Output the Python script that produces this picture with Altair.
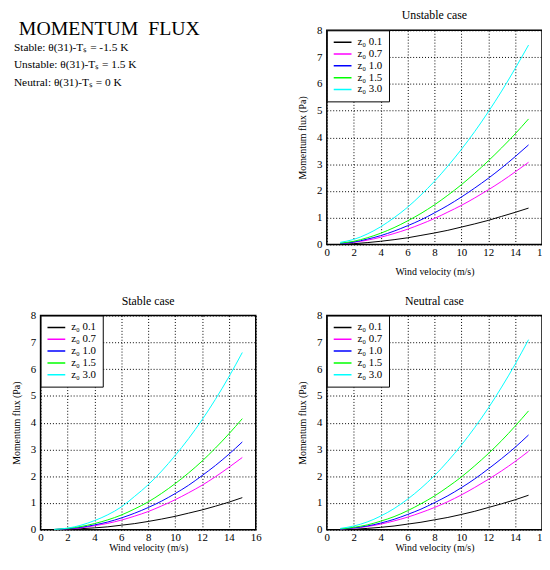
import altair as alt
import pandas as pd

SERIF = "Liberation Serif"

wind = [1, 2, 3, 4, 5, 6, 7, 8, 9, 10, 11, 12, 13, 14, 15]
z0_labels = ["z\u2080 0.1", "z\u2080 0.7", "z\u2080 1.0", "z\u2080 1.5", "z\u2080 3.0"]
z0_colors = ["#000000", "#ff00ff", "#0000ff", "#00ff00", "#00ffff"]

main_title = "MOMENTUM\u00a0 FLUX"
subtitle_lines = [
    "Stable: \u03b8(31)-T\u209b = -1.5 K",
    "Unstable: \u03b8(31)-T\u209b = 1.5 K",
    "Neutral: \u03b8(31)-T\u209b = 0 K",
]

panel_titles = ["Unstable case", "Stable case", "Neutral case"]
x_title = "Wind velocity (m/s)"
y_title = "Momentum flux (Pa)"
x_ticks = [0, 2, 4, 6, 8, 10, 12, 14, 16]
y_ticks = [0, 1, 2, 3, 4, 5, 6, 7, 8]

unstable_01 = [0.01, 0.03, 0.07, 0.12, 0.18, 0.25, 0.34, 0.43, 0.53, 0.65, 0.77, 0.90, 1.05, 1.20, 1.36]
unstable_07 = [0.03, 0.08, 0.16, 0.27, 0.41, 0.57, 0.76, 0.97, 1.21, 1.46, 1.74, 2.04, 2.36, 2.71, 3.07]
unstable_10 = [0.04, 0.09, 0.20, 0.33, 0.50, 0.70, 0.92, 1.18, 1.46, 1.77, 2.11, 2.47, 2.86, 3.28, 3.72]
unstable_15 = [0.05, 0.12, 0.25, 0.42, 0.63, 0.88, 1.16, 1.48, 1.84, 2.23, 2.66, 3.12, 3.61, 4.13, 4.69]
unstable_30 = [0.08, 0.19, 0.39, 0.66, 1.00, 1.39, 1.85, 2.36, 2.93, 3.55, 4.22, 4.95, 5.73, 6.57, 7.45]

stable_01 = [0.00, 0.02, 0.04, 0.07, 0.11, 0.17, 0.23, 0.31, 0.40, 0.50, 0.62, 0.74, 0.88, 1.03, 1.20]
stable_07 = [0.01, 0.03, 0.07, 0.15, 0.24, 0.36, 0.51, 0.68, 0.89, 1.12, 1.38, 1.66, 1.98, 2.33, 2.70]
stable_10 = [0.01, 0.04, 0.09, 0.18, 0.29, 0.44, 0.62, 0.83, 1.07, 1.35, 1.66, 2.02, 2.40, 2.82, 3.28]
stable_15 = [0.01, 0.05, 0.12, 0.23, 0.37, 0.55, 0.78, 1.04, 1.36, 1.72, 2.12, 2.56, 3.05, 3.58, 4.15]
stable_30 = [0.01, 0.06, 0.17, 0.34, 0.56, 0.85, 1.25, 1.68, 2.19, 2.77, 3.40, 4.10, 4.87, 5.71, 6.62]

neutral_01 = [0.01, 0.02, 0.05, 0.09, 0.14, 0.21, 0.28, 0.37, 0.46, 0.57, 0.69, 0.83, 0.97, 1.12, 1.29]
neutral_07 = [0.02, 0.06, 0.12, 0.21, 0.33, 0.47, 0.64, 0.83, 1.05, 1.30, 1.58, 1.88, 2.20, 2.55, 2.93]
neutral_10 = [0.02, 0.07, 0.14, 0.25, 0.39, 0.57, 0.77, 1.01, 1.27, 1.57, 1.90, 2.27, 2.66, 3.08, 3.54]
neutral_15 = [0.03, 0.09, 0.18, 0.32, 0.49, 0.71, 0.97, 1.26, 1.60, 1.97, 2.39, 2.84, 3.33, 3.87, 4.44]
neutral_30 = [0.05, 0.14, 0.29, 0.51, 0.79, 1.14, 1.55, 2.02, 2.56, 3.16, 3.82, 4.54, 5.33, 6.18, 7.10]


def to_frame(series_list):
    rows = []
    for label, values in zip(z0_labels, series_list):
        for u, v in zip(wind, values):
            rows.append({"wind": u, "flux": v, "z0": label})
    return pd.DataFrame(rows)


def axis(title, values, label_pad, title_pad):
    return alt.Axis(
        title=title, values=values, grid=True, gridColor="black", gridDash=[1, 2],
        gridOpacity=1, gridWidth=1, ticks=False, domain=False,
        labelFont=SERIF, labelFontSize=11, labelColor="black", labelFlush=False,
        labelPadding=label_pad, titleFont=SERIF, titleFontSize=10, titleFontWeight="normal",
        titleColor="black", titlePadding=title_pad,
    )


def panel(series_list, title, x_title_pad):
    df = to_frame(series_list)
    return alt.Chart(
        df,
        title=alt.TitleParams(title, font=SERIF, fontSize=12, fontWeight="normal",
                              color="black", frame="group", offset=2),
    ).mark_line(strokeWidth=1, interpolate="monotone", clip=True).encode(
        x=alt.X("wind:Q", scale=alt.Scale(domain=[0, 16], nice=False),
                axis=axis(x_title, x_ticks, 2, x_title_pad)),
        y=alt.Y("flux:Q", scale=alt.Scale(domain=[0, 8], nice=False),
                axis=axis(y_title, y_ticks, 5, 9)),
        color=alt.Color(
            "z0:N",
            scale=alt.Scale(domain=z0_labels, range=z0_colors),
            legend=alt.Legend(
                title=None, orient="top-left", offset=0, padding=6,
                strokeColor="black", fillColor="white", symbolType="stroke",
                symbolSize=324, symbolStrokeWidth=1.5, labelFont=SERIF,
                labelFontSize=11, labelColor="black", rowPadding=0, clipHeight=12,
                labelOffset=5,
            ),
        ),
    ).properties(width=218, height=217,
                 view=alt.ViewBackground(stroke="black", strokeWidth=1.5))


title_layer = alt.Chart(pd.DataFrame({"t": [main_title]})).mark_text(
    align="left", baseline="alphabetic", font=SERIF, fontSize=20, color="black"
).encode(x=alt.value(-22), y=alt.value(5), text="t:N")

sub_layer = alt.Chart(pd.DataFrame({"t": ["\n".join(subtitle_lines)]})).mark_text(
    align="left", baseline="alphabetic", font=SERIF, fontSize=11.5, color="black",
    lineBreak="\n", lineHeight=18,
).encode(x=alt.value(-27), y=alt.value(20.5), text="t:N")

text_panel = alt.layer(title_layer, sub_layer).properties(
    width=218, height=217, view=alt.ViewBackground(stroke="transparent")
)

chart = alt.concat(
    text_panel,
    panel([unstable_01, unstable_07, unstable_10, unstable_15, unstable_30], panel_titles[0], 9),
    panel([stable_01, stable_07, stable_10, stable_15, stable_30], panel_titles[1], 0),
    panel([neutral_01, neutral_07, neutral_10, neutral_15, neutral_30], panel_titles[2], 0),
    columns=2, spacing=72, bounds="flush",
).resolve_legend(color="independent").properties(
    autosize=alt.AutoSizeParams(type="none"),
    padding={"left": 33, "top": 19, "right": 508, "bottom": 530},
    background="white",
)

chart.save("out.html", embed_options={"renderer": "svg", "actions": False})
